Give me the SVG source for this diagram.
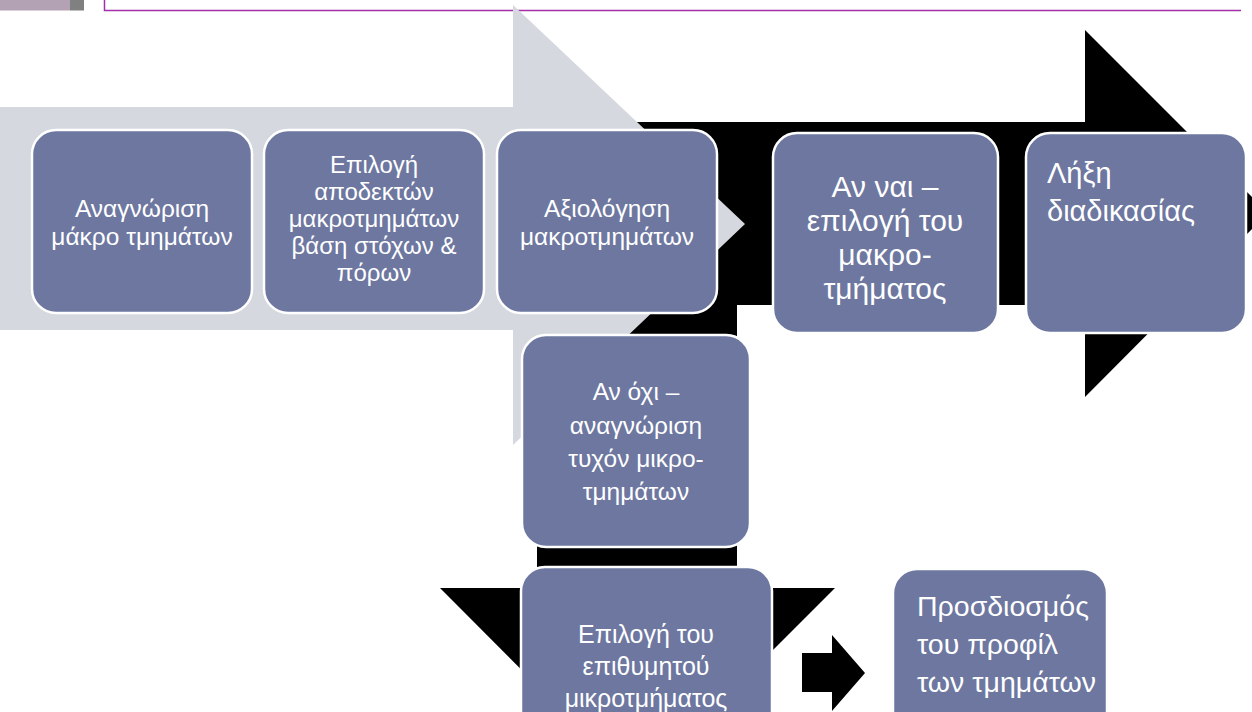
<svg xmlns="http://www.w3.org/2000/svg" width="1252" height="712" viewBox="0 0 1252 712">
<style>
.box{fill:#6d77a0;stroke:#ffffff;stroke-width:2.5}
.t{font-family:"Liberation Sans",Arial,sans-serif;fill:#ffffff}
.s{font-size:24.5px}
.s2{font-size:24px}
.m{font-size:24.5px}
.m7{font-size:25px}
.l{font-size:30px}
.e{font-size:29px}
.p{font-size:28.5px}
.c{text-anchor:middle}
.blk{fill:#000000}
.gry{fill:#d5d8de}
</style>
<g id="header">
<rect x="0" y="0" width="70" height="10.5" fill="#b3a2b3"/>
<rect x="70" y="0" width="14" height="10.5" fill="#808080"/>
<path d="M104.5 0 V10.5 H1241" fill="none" stroke="#a42fa8" stroke-width="1.5"/>
</g>
<g id="connectors">
<polygon class="blk" points="537,122 1085,122 1085,30 1268,213 1085,397 1085,305 737,305 737,588 835,588 637,786 440,588 537,588"/>
<polygon class="gry" points="0,107 513,107 513,5 745,224 513,445 513,330 0,330"/>
<polygon class="blk" points="802,653 832,653 832,635 865,673 832,711 832,692 802,692"/>
</g>
<g id="n1">
<rect class="box" x="32" y="130" width="220" height="183" rx="24"/>
<text class="t s c"><tspan x="142" y="217">Αναγνώριση</tspan><tspan x="142" y="245">μάκρο τμημάτων</tspan></text>
</g>
<g id="n2">
<rect class="box" x="264" y="130" width="220" height="183" rx="24"/>
<text class="t s2 c"><tspan x="374" y="173">Επιλογή</tspan><tspan x="374" y="200">αποδεκτών</tspan><tspan x="374" y="227">μακροτμημάτων</tspan><tspan x="374" y="254">βάση στόχων &amp;</tspan><tspan x="374" y="281">πόρων</tspan></text>
</g>
<g id="n3">
<rect class="box" x="497" y="130" width="220" height="183" rx="24"/>
<text class="t s c"><tspan x="607" y="217">Αξιολόγηση</tspan><tspan x="607" y="245">μακροτμημάτων</tspan></text>
</g>
<g id="n4">
<rect class="box" x="773" y="133" width="225" height="200" rx="24"/>
<text class="t l c"><tspan x="885" y="197">Αν ναι –</tspan><tspan x="885" y="231">επιλογή του</tspan><tspan x="885" y="265">μακρο-</tspan><tspan x="885" y="299">τμήματος</tspan></text>
</g>
<g id="n5">
<rect class="box" x="1026" y="133" width="220" height="200" rx="24"/>
<text class="t e"><tspan x="1047" y="183">Λήξη</tspan><tspan x="1047" y="221">διαδικασίας</tspan></text>
</g>
<g id="n6">
<rect class="box" x="522" y="335" width="228" height="212" rx="24"/>
<text class="t m c"><tspan x="636" y="400">Αν όχι –</tspan><tspan x="636" y="434">αναγνώριση</tspan><tspan x="636" y="467">τυχόν μικρο-</tspan><tspan x="636" y="500">τμημάτων</tspan></text>
</g>
<g id="n7">
<rect class="box" x="521" y="567" width="251" height="180" rx="24"/>
<text class="t m7 c"><tspan x="646" y="643">Επιλογή του</tspan><tspan x="646" y="675">επιθυμητού</tspan><tspan x="646" y="707">μικροτμήματος</tspan></text>
</g>
<g id="n8">
<rect class="box" x="893" y="569" width="214" height="180" rx="24"/>
<text class="t p"><tspan x="917" y="616">Προσδιοσμός</tspan><tspan x="917" y="654">του προφίλ</tspan><tspan x="917" y="692">των τμημάτων</tspan></text>
</g>
</svg>
